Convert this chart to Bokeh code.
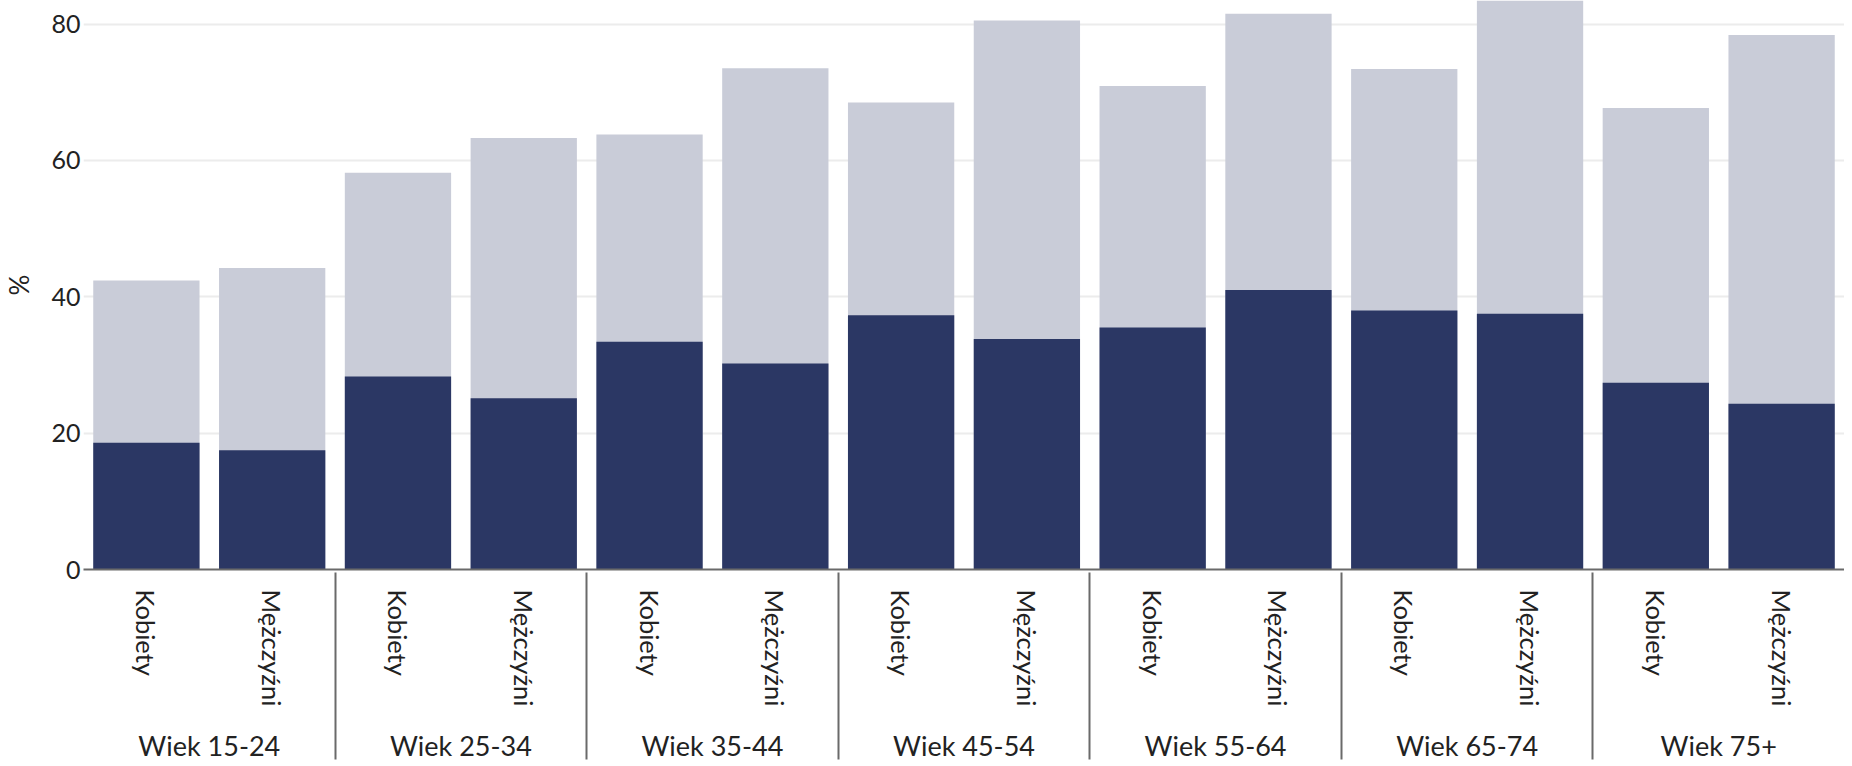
import math
from bokeh.plotting import figure
from bokeh.models import FactorRange, Range1d, FixedTicker
from bokeh.embed import file_html
from bokeh.resources import INLINE

# ---- data ----
groups = ["Wiek 15-24", "Wiek 25-34", "Wiek 35-44", "Wiek 45-54",
          "Wiek 55-64", "Wiek 65-74", "Wiek 75+"]
sexes = ["Kobiety", "Mężczyźni"]
dark_kobiety = [18.6, 28.3, 33.4, 37.3, 35.5, 38.0, 27.4]
dark_mezczyzni = [17.5, 25.1, 30.2, 33.8, 41.0, 37.5, 24.3]
total_kobiety = [42.4, 58.2, 63.8, 68.5, 70.9, 73.4, 67.7]
total_mezczyzni = [44.2, 63.3, 73.5, 80.5, 81.5, 84.5, 78.4]
y_ticks = [0, 20, 40, 60, 80]
y_label = "%"

# ---- build ----
x = []
dark = []
total = []
for i, g in enumerate(groups):
    x.append((g, sexes[0]))
    dark.append(dark_kobiety[i])
    total.append(total_kobiety[i])
    x.append((g, sexes[1]))
    dark.append(dark_mezczyzni[i])
    total.append(total_mezczyzni[i])

FONT = "Lato"
TXT = "#222222"
FS = "25px"
DARK = "#2b3764"
LIGHT = "#c9ccd8"
AX = "#6a6a6a"

xr = FactorRange(*x, factor_padding=0, group_padding=0, range_padding=0)
p = figure(width=1844, height=766, x_range=xr, y_range=Range1d(0, 83.45),
           output_backend="svg", toolbar_location=None,
           min_border_left=81, min_border_right=0, min_border_top=0,
           min_border_bottom=197)

p.vbar(x=x, top=total, bottom=0, width=0.845, fill_color=LIGHT, line_color=None)
p.vbar(x=x, top=dark, bottom=0, width=0.845, fill_color=DARK, line_color=None)

p.outline_line_color = None
p.background_fill_color = "white"
p.border_fill_color = "white"

# y axis
ya = p.yaxis[0]
ya.ticker = FixedTicker(ticks=y_ticks)
ya.axis_line_color = None
ya.major_tick_line_color = None
ya.minor_tick_line_color = None
ya.major_tick_out = 0
ya.major_tick_in = 0
ya.minor_tick_out = 0
ya.major_label_standoff = 3
ya.major_label_text_font = FONT
ya.major_label_text_font_size = FS
ya.major_label_text_color = TXT
ya.axis_label = y_label
ya.axis_label_text_font = FONT
ya.axis_label_text_font_size = "26px"
ya.axis_label_text_font_style = "normal"
ya.axis_label_text_color = TXT
ya.axis_label_standoff = 13

p.ygrid.grid_line_color = "#ececec"
p.ygrid.grid_line_width = 2
p.ygrid.ticker = FixedTicker(ticks=y_ticks)
p.xgrid.grid_line_color = None

# x axis: rotated sex labels + age-group labels + separators
xa = p.xaxis[0]
xa.axis_line_color = AX
xa.axis_line_width = 2
xa.major_tick_line_color = None
xa.minor_tick_line_color = None
xa.major_tick_out = 0
xa.major_tick_in = 0
xa.minor_tick_out = 0
xa.major_label_orientation = -math.pi / 2
xa.major_label_standoff = 20
xa.major_label_text_font = FONT
xa.major_label_text_font_size = "25.5px"
xa.major_label_text_color = TXT
xa.group_text_font = FONT
xa.group_text_font_size = "27px"
xa.group_text_font_style = "normal"
xa.group_text_color = TXT
xa.separator_line_color = AX
xa.separator_line_width = 2

open("out.html", "w").write(file_html(p, INLINE))
